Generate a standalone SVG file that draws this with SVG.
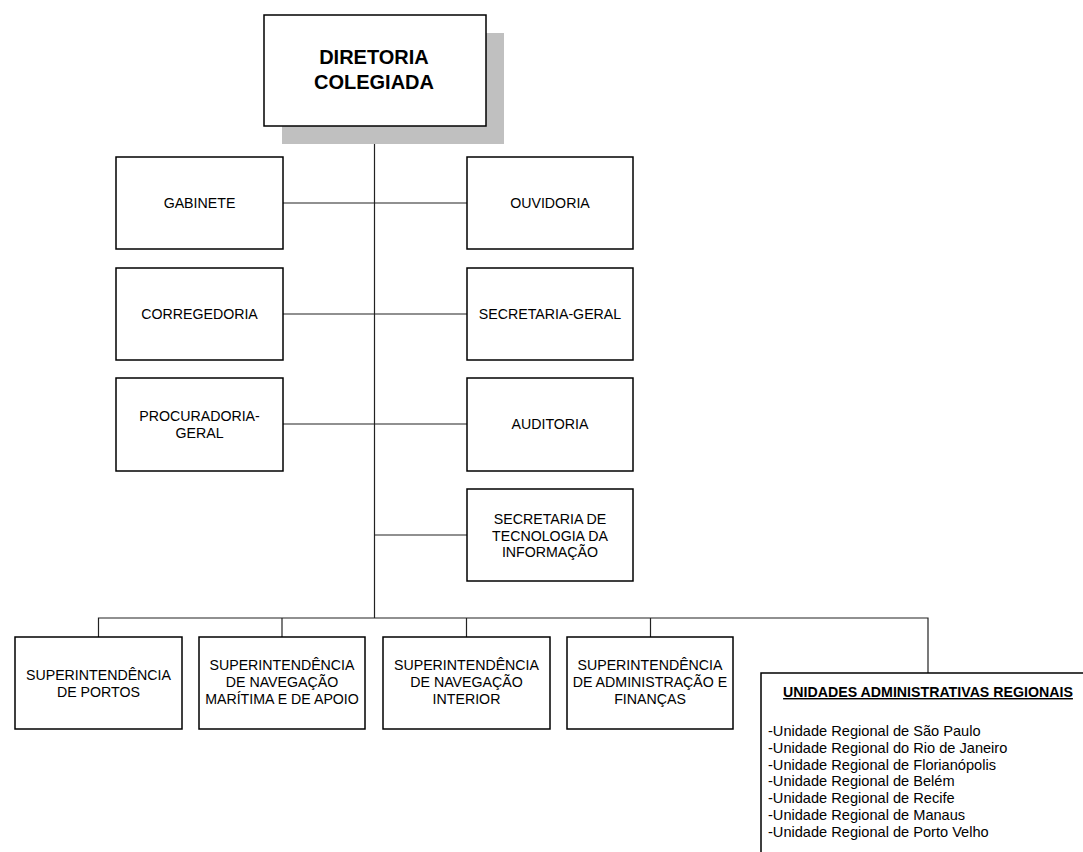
<svg xmlns="http://www.w3.org/2000/svg" width="1083" height="852" viewBox="0 0 1083 852">
<style>
.box{fill:#fff;stroke:#000;stroke-width:1.5}
.t{font-family:"Liberation Sans",Arial,sans-serif;font-size:14.2px;fill:#000;text-anchor:middle}
.tb{font-family:"Liberation Sans",Arial,sans-serif;font-weight:bold;fill:#000;text-anchor:middle}
.l{font-family:"Liberation Sans",Arial,sans-serif;font-size:14.6px;fill:#000}
.c{fill:none;stroke:#222;stroke-width:1.2}
</style>
<rect width="1083" height="852" fill="#fff"/>
<g id="connectors">
<line class="c" x1="374.5" y1="144" x2="374.5" y2="618"/>
<line class="c" x1="283" y1="203" x2="467" y2="203"/>
<line class="c" x1="283" y1="314" x2="467" y2="314"/>
<line class="c" x1="283" y1="424" x2="467" y2="424"/>
<line class="c" x1="374.5" y1="535" x2="467" y2="535"/>
<polyline class="c" points="98.5,637 98.5,618 928,618 928,673"/>
<line class="c" x1="282" y1="618" x2="282" y2="637"/>
<line class="c" x1="466.5" y1="618" x2="466.5" y2="637"/>
<line class="c" x1="650.5" y1="618" x2="650.5" y2="637"/>
</g>
<g id="diretoria">
<rect x="282" y="33" width="222" height="111" fill="#c0c0c0"/>
<rect class="box" x="264" y="15" width="222" height="111"/>
<text class="tb" font-size="20" x="374" y="64">DIRETORIA</text>
<text class="tb" font-size="20" x="374" y="89">COLEGIADA</text>
</g>
<g id="gabinete">
<rect class="box" x="116" y="157" width="167" height="92"/>
<text class="t" x="199.5" y="208">GABINETE</text>
</g>
<g id="ouvidoria">
<rect class="box" x="467" y="157" width="166" height="92"/>
<text class="t" x="550" y="208">OUVIDORIA</text>
</g>
<g id="corregedoria">
<rect class="box" x="116" y="268" width="167" height="92"/>
<text class="t" x="199.5" y="319">CORREGEDORIA</text>
</g>
<g id="secretaria-geral">
<rect class="box" x="467" y="268" width="166" height="92"/>
<text class="t" x="550" y="319">SECRETARIA-GERAL</text>
</g>
<g id="procuradoria">
<rect class="box" x="116" y="378" width="167" height="93"/>
<text class="t" x="199.5" y="421">PROCURADORIA-</text>
<text class="t" x="199.5" y="438">GERAL</text>
</g>
<g id="auditoria">
<rect class="box" x="467" y="378" width="166" height="93"/>
<text class="t" x="550" y="429">AUDITORIA</text>
</g>
<g id="secretaria-ti">
<rect class="box" x="467" y="489" width="166" height="92"/>
<text class="t" x="550" y="524">SECRETARIA DE</text>
<text class="t" x="550" y="540.5">TECNOLOGIA DA</text>
<text class="t" x="550" y="557">INFORMAÇÃO</text>
</g>
<g id="sup-portos">
<rect class="box" x="15" y="637" width="167" height="92"/>
<text class="t" x="98.5" y="680">SUPERINTENDÊNCIA</text>
<text class="t" x="98.5" y="697">DE PORTOS</text>
</g>
<g id="sup-maritima">
<rect class="box" x="199" y="637" width="166" height="92"/>
<text class="t" x="282" y="670">SUPERINTENDÊNCIA</text>
<text class="t" x="282" y="687">DE NAVEGAÇÃO</text>
<text class="t" x="282" y="704">MARÍTIMA E DE APOIO</text>
</g>
<g id="sup-interior">
<rect class="box" x="383" y="637" width="167" height="92"/>
<text class="t" x="466.5" y="670">SUPERINTENDÊNCIA</text>
<text class="t" x="466.5" y="687">DE NAVEGAÇÃO</text>
<text class="t" x="466.5" y="704">INTERIOR</text>
</g>
<g id="sup-adm">
<rect class="box" x="567" y="637" width="166" height="92"/>
<text class="t" x="650" y="670">SUPERINTENDÊNCIA</text>
<text class="t" x="650" y="687">DE ADMINISTRAÇÃO E</text>
<text class="t" x="650" y="704">FINANÇAS</text>
</g>
<g id="unidades">
<rect class="box" x="761" y="673" width="400" height="250"/>
<text class="tb" font-size="14.2" x="928" y="697" text-decoration="underline">UNIDADES ADMINISTRATIVAS REGIONAIS</text>
<text class="l" x="768" y="736">-Unidade Regional de São Paulo</text>
<text class="l" x="768" y="752.8">-Unidade Regional do Rio de Janeiro</text>
<text class="l" x="768" y="769.6">-Unidade Regional de Florianópolis</text>
<text class="l" x="768" y="786.4">-Unidade Regional de Belém</text>
<text class="l" x="768" y="803.2">-Unidade Regional de Recife</text>
<text class="l" x="768" y="820">-Unidade Regional de Manaus</text>
<text class="l" x="768" y="836.8">-Unidade Regional de Porto Velho</text>
</g>
</svg>
